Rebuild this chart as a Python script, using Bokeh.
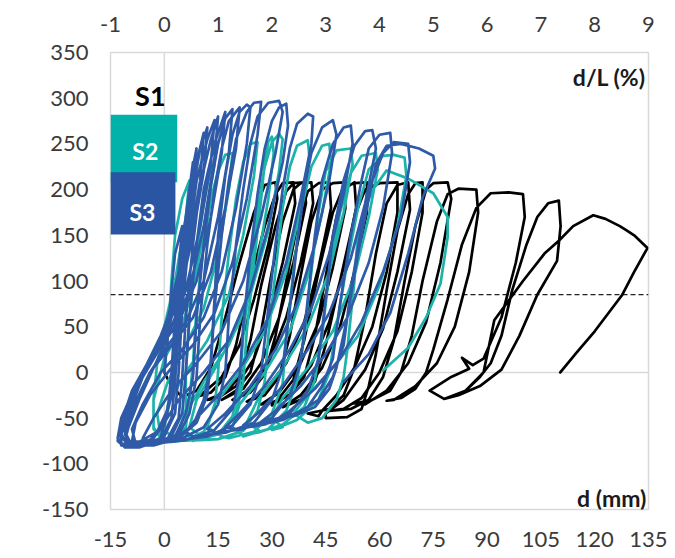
from math import pi
from bokeh.plotting import figure
from bokeh.models import Range1d, LinearAxis, FixedTicker, Span, Label, BoxAnnotation
from bokeh.embed import file_html
from bokeh.resources import INLINE

# ---------------- data ----------------
x_ticks = [-15, 0, 15, 30, 45, 60, 75, 90, 105, 120, 135]
x_tick_labels = ["-15", "0", "15", "30", "45", "60", "75", "90", "105", "120", "135"]
y_ticks = [-150, -100, -50, 0, 50, 100, 150, 200, 250, 300, 350]
y_tick_labels = ["-150", "-100", "-50", "0", "50", "100", "150", "200", "250", "300", "350"]
top_ticks = [-1, 0, 1, 2, 3, 4, 5, 6, 7, 8, 9]
top_tick_labels = ["-1", "0", "1", "2", "3", "4", "5", "6", "7", "8", "9"]
threshold_kN = 85

# S1 (black) hysteresis path: (d mm, F kN)
S1 = [(0, 0), (2, -15), (5, -27), (9, -20), (13, 5), (17, 60), (21, 120), (25, 175), (28, 205), (31, 208),
      (31.5, 190), (29, 140), (25, 80), (21, 30), (16, -5), (11, -22), (8, -28),
      (13, -22), (17, -5), (20, 30), (24, 100), (28, 160), (31, 195), (33, 207), (36, 208), (36.5, 185),
      (33, 120), (29, 60), (25, 15), (20, -15), (15, -28), (12, -30),
      (17, -22), (21, -5), (24, 35), (27, 95), (31, 160), (34, 198), (36, 207), (39, 208), (39.5, 185),
      (36, 120), (32, 60), (27, 10), (22, -18), (16, -30),
      (20, -20), (24, 0), (27, 45), (30, 110), (33, 165), (36, 200), (38, 207), (41, 208), (41.5, 185),
      (38, 120), (34, 60), (29, 10), (24, -18), (19, -30),
      (24, -22), (28, -2), (31, 40), (34, 100), (37, 160), (40, 198), (43, 207), (46, 208), (46.5, 180),
      (43, 115), (39, 55), (34, 10), (28, -20), (23, -32),
      (28, -25), (32, -5), (35, 40), (38, 105), (41, 165), (44, 200), (47, 207), (50, 208), (50.5, 180),
      (47, 115), (43, 55), (38, 10), (32, -22), (27, -35),
      (30, -33), (35, -25), (39, -5), (42, 40), (45, 105), (48, 170), (51, 203), (53, 208), (53.5, 180),
      (50, 115), (46, 55), (41, 8), (35, -24), (30, -36),
      (32, -28), (36, -8), (39, 35), (43, 110), (47, 175), (50, 203), (53, 207), (56.5, 208), (56.5, 175),
      (53, 110), (49, 50), (44, 5), (38, -25), (33, -38),
      (38, -30), (42, -10), (45, 30), (49, 100), (53, 170), (56, 200), (60, 207), (65, 208), (65, 175),
      (62, 110), (58, 50), (53, 5), (48, -25), (44, -42), (43, -48),
      (40, -45), (46, -40), (50, -25), (53, 5), (56, 60), (59, 130), (62, 185), (65, 205), (68, 208),
      (68.5, 178), (65, 110), (61, 48), (56, 3), (50, -30), (45, -45),
      (45, -50), (51, -49), (55, -40), (57, -15), (59, 20), (62, 90), (65, 155), (68, 195), (70, 207),
      (72, 208), (72, 175), (69, 110), (65, 45), (60, 0), (55, -28), (50, -40), (46, -42),
      (52, -40), (57, -30), (61, -5), (64, 35), (67, 100), (70, 160), (73, 200), (75, 207), (79, 208),
      (80, 190), (77, 120), (73, 55), (68, 10), (62, -20), (56, -35), (53, -34),
      (58, -30), (63, -20), (66, 0), (69, 40), (72, 100), (76, 165), (79, 195), (82, 201), (87, 200),
      (87.5, 175), (85, 110), (81, 50), (76, 10), (70, -15), (64, -30), (62, -31),
      (66, -28), (70, -18), (73, 0), (75, 25), (79, 80), (83, 140), (87, 180), (91, 196), (96, 197),
      (100, 195), (100.5, 170), (98, 120), (94, 60), (89, 15), (86, 8), (83, 16), (85, 4), (80, -5),
      (74, -20), (78, -29),
      (84, -20), (88, -5), (91, 10), (94, 40), (97, 90), (101, 140), (104, 170), (107, 185), (110, 188),
      (110.5, 160), (109.5, 122), (104, 85), (99, 40), (94, 3), (88, -15), (82, -25), (78, -29),
      (84, -20), (89, 0), (92, 57), (100, 100), (106, 130), (110, 144), (114, 160), (119.6, 172),
      (123, 168), (127, 160), (129, 155), (131, 150), (134.7, 136), (131, 110), (127.7, 85), (120, 45),
      (115, 22), (110.4, 0)]

# S2 (teal) hysteresis path
S2 = [(0, 0), (1, 40), (2, 100), (3, 150), (5, 190), (7, 210), (6, 170), (3, 100), (0, 50), (-2, 10),
      (-3, -30), (-3, -60), (-1, -72),
      (1, -74), (4, -66), (6, -40), (6, 0), (7, 60), (9, 130), (11, 185), (13, 225), (14, 228), (12, 180),
      (9, 110), (5, 50), (0, 15), (-3, -30), (-3, -62), (0, -74),
      (3, -72), (6, -60), (7, -30), (8, 10), (9, 70), (11, 140), (13, 190), (15, 220), (17, 238), (19, 240),
      (18, 200), (15, 130), (11, 70), (6, 30), (1, -10), (-2, -45), (-1, -70), (2, -76),
      (6, -74), (11, -65), (14, -40), (15, 0), (16, 60), (18, 130), (20, 190), (22, 230), (24, 250),
      (26, 252), (25, 215), (22, 150), (18, 85), (12, 35), (6, 0), (1, -35), (0, -62), (3, -75),
      (10, -74), (16, -66), (20, -45), (22, -10), (23, 45), (25, 120), (27, 190), (28, 230), (29, 252),
      (30, 258), (30.5, 240), (29, 190), (26, 120), (21, 55), (15, 10), (9, -30), (7, -60), (11, -72),
      (8, -75), (15, -68), (19, -48), (21, -15), (22, 40), (24, 110), (26, 180), (28, 225), (30, 252),
      (32, 261), (33, 255), (32, 220), (29, 155), (24, 85), (18, 30), (11, -10), (6, -45), (6, -68), (10, -74),
      (15, -73), (22, -64), (26, -42), (28, -10), (29, 40), (31, 110), (33, 180), (35, 225), (37, 248),
      (40, 254), (40.5, 235), (38, 180), (34, 110), (28, 45), (21, 0), (14, -35), (12, -60), (16, -70),
      (18, -72), (25, -65), (30, -45), (33, -12), (34, 40), (36, 110), (38, 175), (41, 225), (44, 248),
      (46, 250), (46.5, 230), (44, 175), (40, 105), (35, 45), (28, 0), (21, -35), (19, -60), (22, -69),
      (22, -70), (29, -62), (34, -42), (37, -10), (39, 40), (41, 110), (43, 175), (45, 220), (48, 243),
      (52, 245), (52.5, 228), (50, 175), (46, 110), (40, 50), (33, 5), (26, -30), (23, -55), (27, -65),
      (26, -66), (33, -57), (39, -38), (42, -8), (44, 40), (46, 110), (49, 175), (52, 218), (55, 237),
      (59, 240), (59.5, 222), (57, 170), (53, 105), (47, 45), (40, 5), (33, -28), (30, -50), (33, -60),
      (30, -63), (37, -52), (43, -30), (46, 0), (48, 50), (51, 120), (54, 180), (57, 222), (61, 237),
      (64, 238), (67, 235), (67.5, 215), (65, 160), (60, 95), (54, 40), (47, 5), (40, -25), (36, -45), (40, -55),
      (44, -50), (48, -30), (50, -5), (51, 24), (53, 100), (54, 152), (56, 180), (58, 199), (62, 221),
      (68, 212), (75, 196), (79, 170), (79, 148), (77, 97), (73, 60), (68, 27), (61, 2)]

# S3 (blue) hysteresis path
S3 = [(0, 0), (1, 40), (2, 90), (3, 130), (5, 160), (4, 110), (2, 60), (0, 30), (-3, 5), (-7, -30),
      (-10, -60), (-11, -75),
      (-7, -76), (-2, -65), (1, -40), (2, 0), (3, 60), (5, 140), (7, 200), (8, 230), (7, 190), (4, 110),
      (1, 60), (-2, 30), (-6, 0), (-10, -35), (-12, -65), (-12, -80),
      (-9, -79), (-4, -74), (0, -58), (2, -25), (3, 20), (4, 90), (6, 170), (8, 225), (9, 245), (8, 200),
      (5, 120), (2, 70), (-1, 40), (-5, 8), (-9, -25), (-12, -60), (-12, -78),
      (-8, -80), (-3, -72), (0, -55), (2, -20), (3, 30), (5, 110), (7, 180), (9, 230), (11, 262), (10, 210),
      (7, 140), (3, 70), (0, 45), (-4, 15), (-9, -20), (-12, -55), (-13, -75), (-11, -82),
      (-7, -82), (-1, -74), (2, -50), (3, -10), (4, 50), (6, 130), (8, 200), (10, 245), (12, 268), (11, 220),
      (8, 150), (4, 80), (1, 50), (-3, 20), (-8, -15), (-12, -50), (-13, -72), (-11, -82),
      (-6, -80), (0, -70), (3, -45), (4, 0), (5, 70), (7, 150), (9, 210), (12, 255), (14, 276), (13, 230),
      (10, 160), (6, 90), (2, 50), (-2, 25), (-7, -10), (-11, -45), (-12, -70), (-10, -80),
      (-5, -80), (1, -72), (4, -50), (5, -5), (6, 60), (8, 140), (10, 205), (13, 255), (15, 280), (14, 235),
      (11, 160), (7, 90), (3, 50), (-1, 28), (-6, -5), (-10, -40), (-12, -68), (-10, -80),
      (-4, -80), (2, -70), (5, -45), (6, 0), (7, 60), (9, 140), (11, 200), (14, 250), (17, 285), (16, 240),
      (13, 170), (9, 100), (4, 55), (0, 35), (-5, 5), (-9, -35), (-11, -65), (-9, -80),
      (-3, -79), (3, -70), (6, -45), (8, -5), (9, 60), (11, 140), (13, 205), (15, 250), (17, 278), (19, 288),
      (18, 240), (15, 170), (11, 100), (6, 55), (1, 30), (-4, 0), (-9, -40), (-11, -68), (-9, -80),
      (-2, -78), (4, -68), (7, -45), (9, -5), (10, 60), (12, 140), (14, 200), (16, 245), (18, 275), (21, 290),
      (20, 245), (17, 180), (13, 110), (8, 60), (3, 35), (-3, 5), (-8, -35), (-11, -65), (-10, -78),
      (-3, -80), (4, -72), (9, -55), (12, -25), (13, 15), (14, 80), (15, 150), (17, 215), (19, 260), (21, 285),
      (23, 293), (24, 290), (23, 250), (20, 180), (16, 110), (11, 60), (5, 25), (-1, 0), (-6, -35),
      (-9, -62), (-8, -78),
      (-4, -80), (3, -72), (8, -58), (11, -30), (13, 10), (14, 70), (16, 150), (18, 210), (20, 255),
      (23, 285), (25, 295), (27, 296), (26, 260), (23, 190), (19, 120), (14, 65), (8, 30), (2, 5),
      (-4, -25), (-8, -55), (-9, -75),
      (-3, -78), (5, -72), (11, -60), (15, -35), (17, 0), (18, 60), (20, 140), (22, 200), (24, 250),
      (26, 280), (29, 295), (32, 297), (33, 285), (31, 240), (27, 170), (22, 100), (16, 45), (9, 10),
      (2, -20), (-3, -50), (-6, -72),
      (-3, -78), (6, -74), (14, -63), (19, -40), (21, -5), (22, 50), (24, 130), (26, 195), (28, 245),
      (30, 275), (32, 290), (34, 294), (34.5, 270), (33, 230), (29, 160), (24, 90), (18, 35), (11, 0),
      (4, -30), (0, -55), (-1, -72),
      (3, -75), (12, -70), (19, -58), (24, -35), (27, 0), (29, 70), (31, 140), (33, 200), (35, 245),
      (37, 272), (40, 283), (41.5, 280), (41, 250), (38, 190), (34, 120), (29, 60), (22, 10), (15, -25),
      (9, -50), (6, -65),
      (8, -70), (17, -66), (25, -55), (30, -30), (33, 5), (35, 70), (37, 140), (39, 200), (41, 240),
      (44, 268), (47, 276), (48, 260), (46, 210), (42, 140), (37, 75), (31, 25), (24, -15), (17, -45), (12, -62),
      (14, -66), (22, -62), (30, -50), (35, -25), (38, 10), (40, 80), (42, 150), (44, 210), (47, 250),
      (50, 268), (52, 270), (52.5, 250), (50, 195), (46, 130), (41, 70), (35, 25), (28, -15), (21, -45), (17, -60),
      (20, -62), (28, -57), (35, -45), (40, -20), (43, 15), (45, 80), (47, 150), (50, 210), (53, 248),
      (56, 264), (58, 265), (59, 245), (56, 185), (52, 125), (46, 65), (40, 25), (33, -15), (26, -45), (22, -58),
      (26, -58), (33, -52), (40, -38), (44, -15), (47, 15), (49, 75), (52, 150), (55, 210), (57, 245),
      (60, 260), (63, 262), (63.5, 240), (61, 180), (57, 120), (51, 60), (45, 20), (38, -15), (31, -42), (27, -54),
      (30, -52), (37, -45), (43, -30), (47, -5), (50, 30), (52, 90), (55, 160), (58, 210), (61, 240),
      (64, 252), (68, 250), (68.5, 230), (66, 170), (61, 110), (55, 55), (49, 15), (42, -18), (35, -42), (32, -50),
      (36, -48), (42, -38), (46, -18), (48, 5), (51, 60), (54, 130), (57, 190), (59, 228), (62, 248),
      (66, 250), (71, 245), (75, 237), (75.5, 223), (72, 191), (68, 130), (63, 65), (57, 20), (50, -10)]

series = [("S1", S1, "#000000"), ("S2", S2, "#1db3aa"), ("S3", S3, "#2e5aa8")]

# ---------------- figure ----------------
FONT = "Lato"
TICK_COLOR = "#3a3a3a"

p = figure(width=667, height=558, output_backend="svg", toolbar_location=None,
           x_range=Range1d(-15, 135), y_range=Range1d(-150, 350),
           min_border_left=110, min_border_right=19, min_border_top=52, min_border_bottom=49,
           background_fill_color="white", border_fill_color="white")
p.extra_x_ranges = {"pct": Range1d(-1, 9)}
top_axis = LinearAxis(x_range_name="pct", ticker=FixedTicker(ticks=top_ticks))
top_axis.major_label_overrides = dict(zip(top_ticks, top_tick_labels))
p.add_layout(top_axis, "above")

bottom_axis = p.below[0]
bottom_axis.ticker = FixedTicker(ticks=x_ticks)
bottom_axis.major_label_overrides = dict(zip(x_ticks, x_tick_labels))
left_axis = p.left[0]
left_axis.ticker = FixedTicker(ticks=y_ticks)
left_axis.major_label_overrides = dict(zip(y_ticks, y_tick_labels))

for ax in (bottom_axis, left_axis, top_axis):
    ax.axis_line_color = None
    ax.major_tick_line_color = None
    ax.minor_tick_line_color = None
    ax.major_tick_out = 0
    ax.major_tick_in = 0
    ax.major_label_text_font = FONT
    ax.major_label_text_font_size = "22px"
    ax.major_label_text_color = TICK_COLOR
left_axis.major_label_standoff = 22
bottom_axis.major_label_standoff = 22
top_axis.major_label_standoff = 21

p.xgrid.visible = False
p.ygrid.visible = False
p.outline_line_color = "#d9d9d9"
p.outline_line_width = 1.5

p.add_layout(Span(location=0, dimension="height", line_color="#d9d9d9", line_width=1.5, level="underlay"))
p.add_layout(Span(location=0, dimension="width", line_color="#d9d9d9", line_width=1.5, level="underlay"))
p.add_layout(Span(location=threshold_kN, dimension="width", line_color="#222222", line_width=1.2,
                  line_dash="5 3", level="underlay"))

for name, pts, color in series:
    d = [pt[0] for pt in pts]
    f = [pt[1] for pt in pts]
    p.line(d, f, line_color=color, line_width=2.7, line_join="round", line_cap="round")

# legend-like boxes
p.add_layout(BoxAnnotation(left=-15, right=3.6, bottom=208, top=282, fill_color="#00b2a9", fill_alpha=1,
                           line_color=None))
p.add_layout(BoxAnnotation(left=-15, right=3.1, bottom=151, top=219, fill_color="#2a55a2", fill_alpha=1,
                           line_color=None))
p.add_layout(Label(x=-3.9, y=303, text="S1", text_font=FONT, text_font_style="bold", text_font_size="27px",
                   text_color="black", text_align="center", text_baseline="middle"))
p.add_layout(Label(x=-5.3, y=242, text="S2", text_font=FONT, text_font_style="bold", text_font_size="23px",
                   text_color="white", text_align="center", text_baseline="middle"))
p.add_layout(Label(x=-6.1, y=176, text="S3", text_font=FONT, text_font_style="bold", text_font_size="23px",
                   text_color="white", text_align="center", text_baseline="middle"))
p.add_layout(Label(x=134.2, y=323, text="d/L (%)", text_font=FONT, text_font_style="bold",
                   text_font_size="23px", text_color="#1a1a1a", text_align="right", text_baseline="middle"))
p.add_layout(Label(x=134.4, y=-137, text="d (mm)", text_font=FONT, text_font_style="bold",
                   text_font_size="23px", text_color="#1a1a1a", text_align="right", text_baseline="middle"))
p.add_layout(Label(x=-36.8, y=12, text="F (kN)", angle=pi / 2, text_font=FONT, text_font_style="bold",
                   text_font_size="23px", text_color="#1a1a1a", text_align="center", text_baseline="middle"))

open("out.html", "w").write(file_html(p, INLINE))
